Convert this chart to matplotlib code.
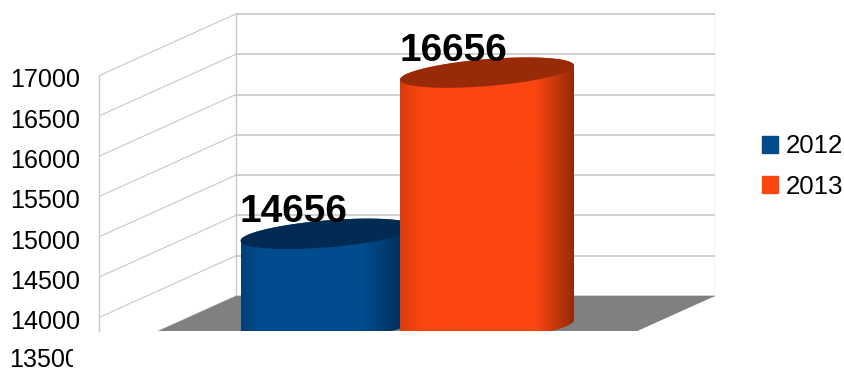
import matplotlib
matplotlib.use("Agg")
import matplotlib.pyplot as plt
from matplotlib.colors import LinearSegmentedColormap
from matplotlib.patches import Patch, Polygon
from matplotlib.transforms import Affine2D, Bbox
import numpy as np

years = ["2012", "2013"]
values = [14656, 16656]
ticks = [13500, 14000, 14500, 15000, 15500, 16000, 16500, 17000]

plt.rcParams["font.family"] = ["Liberation Sans", "DejaVu Sans"]

W, H = 844, 369
PX = 40.3 / 500  # pixels per unit on the y axis
DEPTH_X = 137.5
DEPTH_Y = 62 / PX  # back wall sits this many units above the front
GRID = "#c8c8c8"

fig = plt.figure(figsize=(W / 100, H / 100), dpi=100)
ax = fig.add_axes([98.5 / W, 1 - 331 / H, (715 - 98.5) / W, 331 / H])
ax.patch.set_alpha(0)
ax.set_xlim(98.5, 715)
ax.set_ylim(ticks[0] + (358 - 331) / PX, ticks[0] + 358 / PX)

back_x = 98.5 + DEPTH_X

# walls
for v in ticks:
    ax.plot([98.5, back_x], [v, v + DEPTH_Y], color=GRID, lw=0.8, zorder=1)
    ax.plot([back_x, 715], [v + DEPTH_Y, v + DEPTH_Y], color=GRID, lw=1.2, zorder=1)
wall_y = [ticks[0] + DEPTH_Y, ticks[-1] + DEPTH_Y]
ax.plot([back_x, back_x], wall_y, color=GRID, lw=1.0, zorder=1)
ax.plot([715, 715], wall_y, color=GRID, lw=1.0, zorder=1)

# floor
ax.add_patch(Polygon([(98.5, ticks[0]), (back_x, ticks[0] + DEPTH_Y),
                      (715, ticks[0] + DEPTH_Y), (715 - DEPTH_X, ticks[0])],
                     facecolor="#808080", edgecolor="none", zorder=2))


def ring(cx, v, t):
    # tilted ellipse, half way into the depth of the chart
    x = cx + 87 * np.cos(t)
    y = v + DEPTH_Y / 2 + (7 * np.cos(t) + 13.5 * np.sin(t)) / PX
    return np.column_stack([x, y])


def cylinder(cx, v, stops, top_color, z):
    upper = ring(cx, v, np.linspace(0, np.pi, 80))
    lower = ring(cx, ticks[0], np.linspace(np.pi, 2 * np.pi, 80))
    body = Polygon(np.vstack([upper, lower]), transform=ax.transData,
                   facecolor="none", edgecolor="none")
    ax.add_patch(body)
    cmap = LinearSegmentedColormap.from_list("c", stops)
    grad = np.linspace(0, 1, 256).reshape(1, -1)
    ymin = ticks[0] - 400
    im = ax.imshow(grad, cmap=cmap, aspect="auto", zorder=z,
                   extent=(cx - 87, cx + 87, ymin, v + 1000))
    im.set_clip_path(body)
    ax.add_patch(Polygon(ring(cx, v, np.linspace(0, 2 * np.pi, 160)),
                         facecolor=top_color, edgecolor="none", zorder=z + 0.1))
    ax.text(cx - 34, v + DEPTH_Y / 2 + 22 / PX, str(v), fontsize=27.9, fontweight="bold",
            ha="center", va="center", color="black", zorder=10)


blue_stops = [(0, "#034079"), (0.1, "#004c8f"), (0.7, "#004c8f"), (0.92, "#02305c"), (1, "#022b53")]
orange_stops = [(0, "#d93c0c"), (0.12, "#fb4610"), (0.78, "#fb4610"), (1, "#962a08")]
cylinder(327.5, values[0], blue_stops, "#022b53", 3)
cylinder(487, values[1], orange_stops, "#992a08", 4)

ax.set_xlim(98.5, 715)
ax.set_ylim(ticks[0] + (358 - 331) / PX, ticks[0] + 358 / PX)

# axis
for s in ["top", "right", "bottom"]:
    ax.spines[s].set_visible(False)
ax.spines["left"].set_color(GRID)
ax.spines["left"].set_linewidth(1.0)
ax.spines["left"].set_bounds(ax.get_ylim()[0], ticks[-1])
ax.set_xticks([])
ax.set_yticks(ticks[1:])
ax.tick_params(axis="y", length=0, pad=13.5, labelsize=18.1)
for tick in ax.yaxis.get_major_ticks():
    tick.label1.set_transform(tick.label1.get_transform() + Affine2D().translate(0, -2))

# lowest label falls under the plot and is cut off in the original
low = fig.text(79 / W, 1 - 360 / H, str(ticks[0]), fontsize=18.1, ha="right", va="center")
low.set_clip_box(Bbox([[0, 0], [73, H]]))
low.set_clip_on(True)

handles = [Patch(color="#004c8f"), Patch(color="#fb4610")]
fig.legend(handles, years, loc="center left", bbox_to_anchor=(762 / W, 1 - 166.5 / H),
           frameon=False, fontsize=18.6, handlelength=0.62, handleheight=0.62,
           handletextpad=0.31, labelspacing=0.62, borderpad=0, borderaxespad=0)

fig.savefig("out.png", dpi=100)
